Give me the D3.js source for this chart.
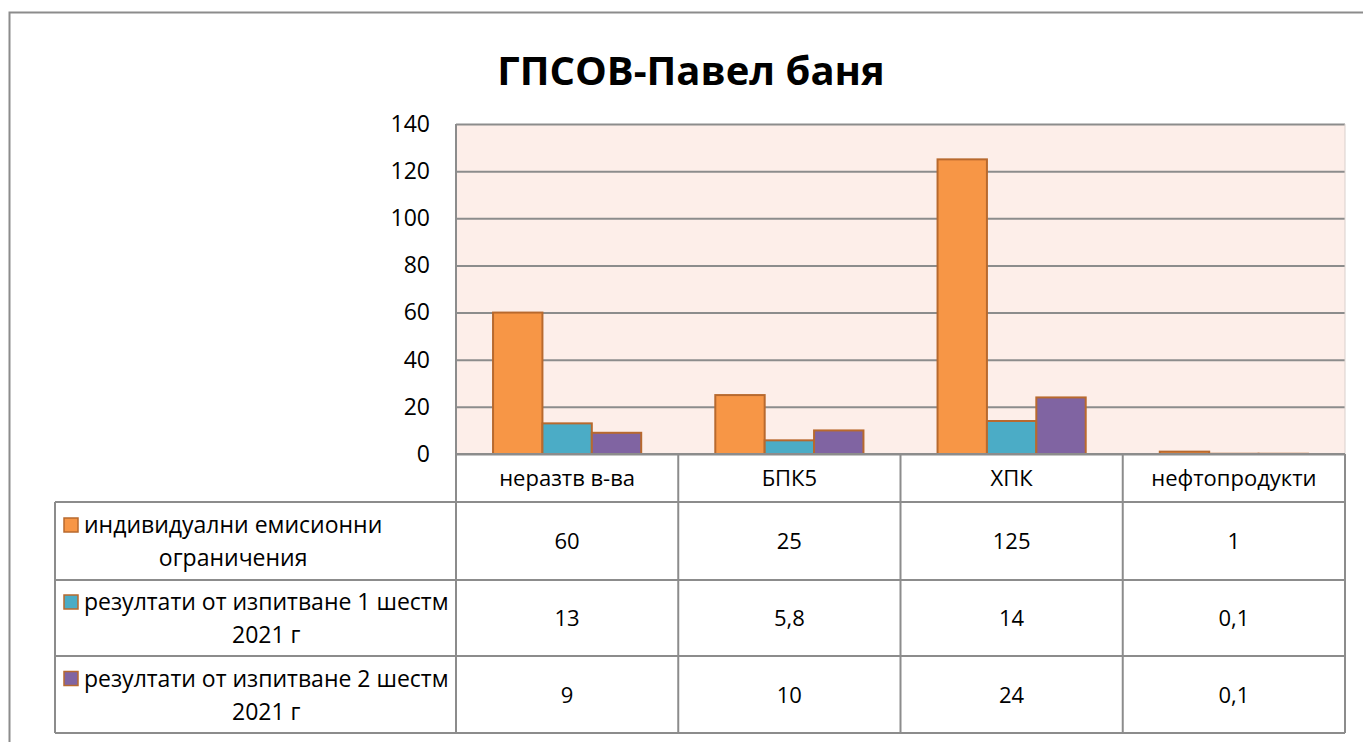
<!DOCTYPE html>
<html>
<head>
<meta charset="utf-8">
<script src="https://cdn.jsdelivr.net/npm/d3@7"></script>
<style>
	body { margin: 0; background: #fff; }
	svg { font-family: "Open Sans", "Noto Sans", sans-serif; }
</style>
</head>
<body>
<div id="chart"></div>
<script>
const title = 'ГПСОВ-Павел баня';
const categories = ['неразтв в-ва', 'БПК5', 'ХПК', 'нефтопродукти'];
const seriesNames = [
	['индивидуални емисионни', 'ограничения'],
	['резултати от изпитване 1 шестм', '2021 г'],
	['резултати от изпитване 2 шестм', '2021 г']
];
const limits = [60, 25, 125, 1];
const firstHalf = [13, 5.8, 14, 0.1];
const secondHalf = [9, 10, 24, 0.1];
const yTicks = [0, 20, 40, 60, 80, 100, 120, 140];

const seriesValues = [limits, firstHalf, secondHalf];
const colors = ['#F79646', '#4BACC6', '#8064A2'];
const barStroke = '#B8692E';
const gridColor = '#8C8C8C';
const textSize = 22;

const width = 1363, height = 742;
const plot = { left: 456, right: 1345, top: 124, bottom: 454 };
const tableLeft = 55;
const rowEdges = [454, 502, 580, 656, 733];

const svg = d3.select('#chart')
	.append('svg')
	.attr('width', width)
	.attr('height', height);

// outer frame (runs off the page on right and bottom)
svg.append('rect')
	.attr('x', 9.5).attr('y', 12.5)
	.attr('width', 1400).attr('height', 800)
	.attr('fill', '#fff')
	.attr('stroke', gridColor)
	.attr('stroke-width', 2);

svg.append('text')
	.attr('x', 691).attr('y', 85)
	.attr('text-anchor', 'middle')
	.attr('font-size', 40)
	.attr('font-weight', 'bold')
	.text(title);

const x = d3.scaleBand()
	.domain(categories)
	.range([plot.left, plot.right]);

const x1 = d3.scaleBand()
	.domain(d3.range(seriesValues.length))
	.range([0, x.bandwidth()])
	.paddingOuter(0.75)
	.paddingInner(0);

const y = d3.scaleLinear()
	.domain([0, 140])
	.range([plot.bottom, plot.top]);

svg.append('rect')
	.attr('x', plot.left).attr('y', plot.top)
	.attr('width', plot.right - plot.left)
	.attr('height', plot.bottom - plot.top)
	.attr('fill', '#FDEEE9');

const yAxis = svg.append('g')
	.attr('transform', `translate(${plot.left},0)`)
	.call(d3.axisLeft(y).tickValues(yTicks).tickSize(-(plot.right - plot.left)).tickPadding(26));

yAxis.select('.domain').remove();
yAxis.selectAll('.tick line')
	.attr('stroke', gridColor)
	.attr('stroke-width', 2);
yAxis.selectAll('.tick text')
	.attr('font-size', 23)
	.attr('font-family', '"Open Sans", sans-serif')
	.attr('fill', '#000');

// plot area border
svg.append('line')
	.attr('x1', plot.left).attr('x2', plot.left)
	.attr('y1', plot.top).attr('y2', plot.bottom)
	.attr('stroke', gridColor).attr('stroke-width', 2);
svg.append('line')
	.attr('x1', plot.right).attr('x2', plot.right)
	.attr('y1', plot.top).attr('y2', plot.bottom)
	.attr('stroke', '#d9d0cc').attr('stroke-width', 1);

// bars
const groups = svg.append('g')
	.selectAll('g')
	.data(categories)
	.join('g')
	.attr('transform', (d) => `translate(${x(d)},0)`);

groups.selectAll('rect')
	.data((d, i) => seriesValues.map((s, k) => ({ k, v: s[i] })))
	.join('rect')
	.attr('x', (d) => x1(d.k))
	.attr('y', (d) => y(d.v))
	.attr('width', x1.bandwidth())
	.attr('height', (d) => y(0) - y(d.v))
	.attr('fill', (d) => colors[d.k])
	.attr('stroke', barStroke)
	.attr('stroke-width', 2);

// data table
const table = svg.append('g')
	.attr('stroke', gridColor)
	.attr('stroke-width', 2);

rowEdges.forEach((ry, i) => {
	table.append('line')
		.attr('x1', i === 0 ? plot.left : tableLeft)
		.attr('x2', plot.right)
		.attr('y1', ry).attr('y2', ry);
});

table.append('line')
	.attr('x1', tableLeft).attr('x2', tableLeft)
	.attr('y1', rowEdges[1]).attr('y2', rowEdges[4]);

categories.forEach((c) => {
	table.append('line')
		.attr('x1', x(c)).attr('x2', x(c))
		.attr('y1', rowEdges[0]).attr('y2', rowEdges[4]);
});
table.append('line')
	.attr('x1', plot.right).attr('x2', plot.right)
	.attr('y1', rowEdges[0]).attr('y2', rowEdges[4]);

svg.append('g')
	.selectAll('text')
	.data(categories)
	.join('text')
	.attr('x', (d) => x(d) + x.bandwidth() / 2)
	.attr('y', (rowEdges[0] + rowEdges[1]) / 2 + 8)
	.attr('text-anchor', 'middle')
	.attr('font-size', textSize)
	.text((d) => d);

const fmt = (v) => String(v).replace('.', ',');

seriesValues.forEach((s, k) => {
	const top = rowEdges[k + 1], bot = rowEdges[k + 2];
	const mid = (top + bot) / 2;

	svg.append('g')
		.selectAll('text')
		.data(s)
		.join('text')
		.attr('x', (d, i) => x(categories[i]) + x.bandwidth() / 2)
		.attr('y', mid + 8)
		.attr('text-anchor', 'middle')
		.attr('font-size', textSize)
		.text((d) => fmt(d));

	// legend key
	svg.append('rect')
		.attr('x', 64).attr('y', mid - 23)
		.attr('width', 14).attr('height', 14)
		.attr('fill', colors[k])
		.attr('stroke', barStroke)
		.attr('stroke-width', 1.5);

	const first = svg.append('text')
		.attr('x', 84).attr('y', mid - 8)
		.attr('font-size', 23)
		.text(seriesNames[k][0]);

	// second line is centred under the first one
	const w = first.node().getComputedTextLength();

	svg.append('text')
		.attr('x', 84 + w / 2)
		.attr('y', mid + 25)
		.attr('text-anchor', 'middle')
		.attr('font-size', 23)
		.text(seriesNames[k][1]);
});
</script>
</body>
</html>
